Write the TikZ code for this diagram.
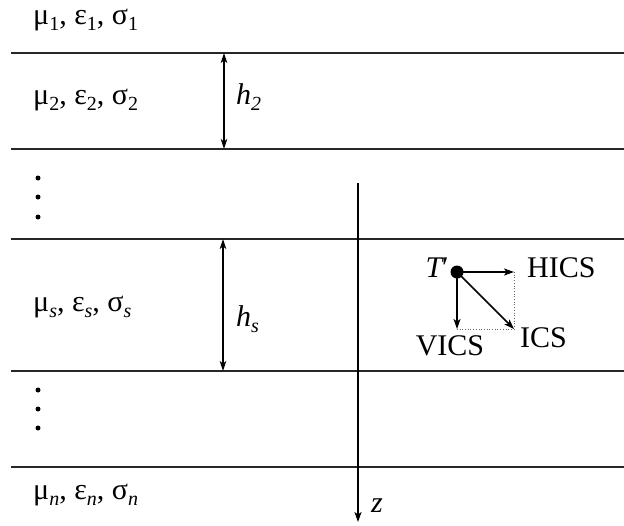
\documentclass[tikz,border=0pt]{standalone}
\usepackage{fontspec}
\setmainfont{Liberation Serif}
\usetikzlibrary{arrows.meta}
\newcommand{\lsub}[1]{\raisebox{-6pt}{\fontsize{20}{20}\selectfont #1}}
\begin{document}
\begin{tikzpicture}[x=1pt,y=-1pt,
  layer/.style={line width=1.4pt,draw=black!85},
  dim/.style={line width=1.2pt,{Stealth[length=10pt,width=6.5pt,inset=2.5pt]}-{Stealth[length=10pt,width=6.5pt,inset=2.5pt]}},
  vec/.style={line width=1.6pt,-{Stealth[length=10pt,width=7pt,inset=2.5pt]}},
  guide/.style={line width=0.7pt,dotted,black!60},
  lab/.style={font=\fontsize{30}{34}\selectfont,inner sep=0pt,anchor=base west},
  dotn/.style={circle,fill=black,inner sep=0pt,minimum size=5pt}]
\useasboundingbox (0,0) rectangle (624,525);
% interfaces
\foreach \n/\y in {a/53,b/149,c/239,d/371,e/467}{
  \coordinate (\n L) at (11,\y);
  \coordinate (\n R) at (624,\y);
  \draw[layer] (\n L) -- (\n R);
}
% materials
\node[lab] (m1) at (33,24) {μ\lsub{1}, ε\lsub{1}, σ\lsub{1}};
\node[lab] (m2) at (33,104) {μ\lsub{2}, ε\lsub{2}, σ\lsub{2}};
\node[lab] (ms) at (33,311) {μ\lsub{\itshape s}, ε\lsub{\itshape s}, σ\lsub{\itshape s}};
\node[lab] (mn) at (33,499) {μ\lsub{\itshape n}, ε\lsub{\itshape n}, σ\lsub{\itshape n}};
% vertical dots
\foreach \n/\y in {p1/178,p2/197,p3/217,q1/390,q2/409,q3/428}{
  \node[dotn] (\n) at (38,\y) {};
}
% thicknesses
\coordinate (h2t) at (224,53);
\coordinate (h2b) at (224,149);
\draw[dim] (h2t) -- (h2b);
\node[lab] (h2) at (236,104) {\itshape h\lsub{2}};
\coordinate (hst) at (223,239);
\coordinate (hsb) at (223,371);
\draw[dim] (hst) -- (hsb);
\node[lab] (hs) at (236,326) {\itshape h\lsub{s}};
% z axis
\coordinate (zt) at (358,183);
\coordinate (zb) at (358,522);
\draw[vec] (zt) -- (zb);
\node[lab] (z) at (371,512) {\itshape z};
% T' and components
\node[circle,fill=black,inner sep=0pt,minimum size=13pt] (T) at (457,272) {};
\coordinate (H) at (514,272);
\coordinate (V) at (457,329);
\coordinate (I) at (514,329);
\draw[guide] (H) -- (I) -- (V);
\draw[vec] (T.center) -- (H);
\draw[vec] (T.center) -- (V);
\draw[vec] (T.center) -- (I);
\node[lab,anchor=base east] (Tl) at (449,277) {{\itshape T}′};
\node[lab] (HICS) at (527,277) {HICS};
\node[lab] (ICS) at (520,347) {ICS};
\node[lab,anchor=base] (VICS) at (450,355) {VICS};
\end{tikzpicture}
\end{document}
